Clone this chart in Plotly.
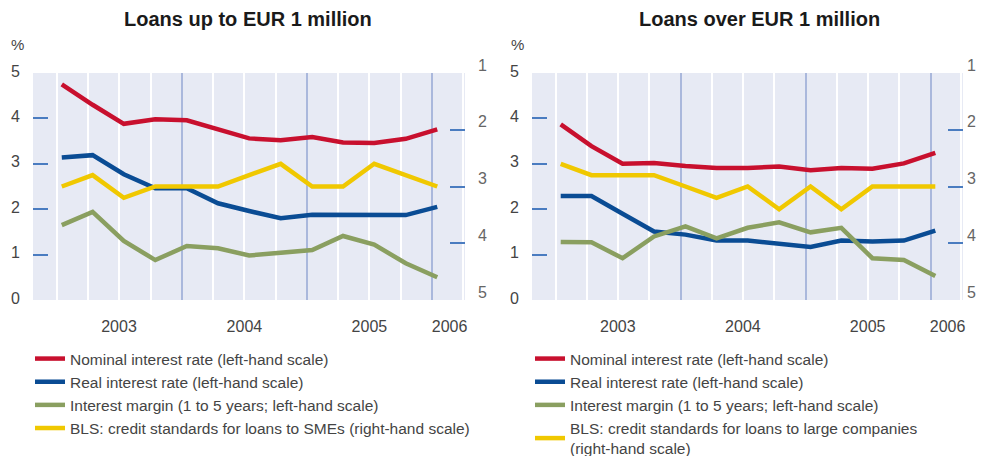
import plotly.graph_objects as go

# quarterly observations, Q1 2003 - Q1 2006
dates = ['2003-01-15', '2003-04-15', '2003-07-15', '2003-10-15',
         '2004-01-15', '2004-04-15', '2004-07-15', '2004-10-15',
         '2005-01-15', '2005-04-15', '2005-07-15', '2005-10-15',
         '2006-01-15']

year_ticks = ['2003-07-01', '2004-07-01', '2005-07-01', '2006-02-20']
year_labels = ['2003', '2004', '2005', '2006']

# white quarter lines and blue year lines of the grid
quarter_lines = ['2003-01-01', '2003-04-01', '2003-07-01', '2003-10-01',
                 '2004-04-01', '2004-07-01', '2004-10-01',
                 '2005-04-01', '2005-07-01', '2005-10-01', '2006-04-01']
year_lines = ['2004-01-01', '2005-01-01', '2006-01-01']

# loans up to EUR 1 million
small_nominal = [4.75, 4.30, 3.88, 3.98, 3.96, 3.75, 3.56, 3.52, 3.59, 3.47, 3.46, 3.55, 3.76]
small_real = [3.14, 3.19, 2.77, 2.46, 2.46, 2.13, 1.96, 1.80, 1.88, 1.88, 1.87, 1.87, 2.05]
small_margin = [1.65, 1.94, 1.30, 0.88, 1.19, 1.14, 0.98, 1.03, 1.10, 1.41, 1.22, 0.81, 0.50]
small_bls = [3.0, 2.8, 3.2, 3.0, 3.0, 3.0, 2.8, 2.6, 3.0, 3.0, 2.6, 2.8, 3.0]

# loans over EUR 1 million
large_nominal = [3.87, 3.39, 3.00, 3.02, 2.95, 2.91, 2.91, 2.94, 2.86, 2.91, 2.89, 3.01, 3.24]
large_real = [2.29, 2.29, 1.90, 1.51, 1.44, 1.31, 1.31, 1.23, 1.17, 1.31, 1.29, 1.31, 1.53]
large_margin = [1.28, 1.27, 0.92, 1.40, 1.62, 1.36, 1.59, 1.71, 1.49, 1.59, 0.92, 0.88, 0.53]
large_bls = [2.6, 2.8, 2.8, 2.8, 3.0, 3.2, 3.0, 3.4, 3.0, 3.4, 3.0, 3.0, 3.0]

left_ticks = [0, 1, 2, 3, 4, 5]
right_ticks = [1, 2, 3, 4, 5]

RED = '#c8102e'
BLUE = '#0a4c94'
GREEN = '#8a9f60'
YELLOW = '#f0c800'
BG = '#e7eaf4'
YEARLINE = '#aab8dc'
DASH = '#4a7cc0'
FONT = 'Liberation Sans, Arial, sans-serif'
TXT = '#444444'

W, H = 984, 456
OFF = 8  # page body margin in front of the plot div


def px_x(x):
    return (x - OFF) / W


def px_y(y):
    return 1 - (y - OFF) / H


XRANGE = ['2002-10-23', '2006-04-06']
YDOM = [px_y(300), px_y(73)]

fig = go.Figure()


def add_panel(n, xdom, series, bls_name, legend_id, legend_x, right_standoff):
    # n = 0 or 1; axis ids for this panel
    xm = 3 * n + 1          # main x (white grid), blue grid, year labels
    ym = 4 * n + 1          # left y, right y, left dashes, right dashes
    xid = lambda k: 'x' if k == 1 else f'x{k}'
    yid = lambda k: 'y' if k == 1 else f'y{k}'
    xname = lambda k: 'xaxis' if k == 1 else f'xaxis{k}'
    yname = lambda k: 'yaxis' if k == 1 else f'yaxis{k}'

    # empty traces so the overlay axes (grid lines, labels, tick dashes) get drawn
    for xa, ya in [(xm + 1, ym), (xm + 2, ym), (xm, ym + 2), (xm, ym + 3)]:
        fig.add_trace(go.Scatter(x=[], y=[], xaxis=xid(xa), yaxis=yid(ya),
                                 showlegend=False, hoverinfo='skip'))

    names = ['Nominal interest rate (left-hand scale)',
             'Real interest rate (left-hand scale)',
             'Interest margin (1 to 5 years; left-hand scale)']
    colors = [RED, BLUE, GREEN]
    for i, (vals, name, col) in enumerate(zip(series, names, colors)):
        fig.add_trace(go.Scatter(
            x=dates, y=vals, name=name, mode='lines',
            line=dict(color=col, width=4.5),
            xaxis=xid(xm), yaxis=yid(ym),
            legend=legend_id, legendgroup=f'{legend_id}{i}'))
    fig.add_trace(go.Scatter(
        x=dates, y=series[3], name=bls_name, mode='lines',
        line=dict(color=YELLOW, width=4.5),
        xaxis=xid(xm), yaxis=yid(ym + 1),
        legend=legend_id, legendgroup=f'{legend_id}3'))

    tickfont = dict(family=FONT, size=16, color=TXT)
    common = dict(automargin=False, zeroline=False, showline=False)
    fig.layout[xname(xm)] = dict(
        domain=xdom, anchor=yid(ym), type='date', range=XRANGE,
        tickmode='array', tickvals=quarter_lines, showgrid=True,
        gridcolor='white', gridwidth=2, showticklabels=False, ticks='', **common)
    fig.layout[xname(xm + 1)] = dict(
        overlaying=xid(xm), anchor=yid(ym), type='date', range=XRANGE,
        tickmode='array', tickvals=year_lines, showgrid=True, gridcolor=YEARLINE,
        gridwidth=2, showticklabels=False, ticks='', **common)
    fig.layout[xname(xm + 2)] = dict(
        overlaying=xid(xm), anchor=yid(ym), type='date', range=XRANGE,
        tickmode='array', tickvals=year_ticks, ticktext=year_labels,
        showgrid=False, ticks='', tickfont=tickfont, ticklabelstandoff=15, **common)

    fig.layout[yname(ym)] = dict(
        domain=YDOM, anchor=xid(xm), range=[0, 5],
        tickmode='array', tickvals=left_ticks, showgrid=False,
        ticks='', tickfont=tickfont, ticklabelstandoff=12, ticklabelshift=-2, **common)
    fig.layout[yname(ym + 1)] = dict(
        overlaying=yid(ym), anchor=xid(xm), side='right', range=[5, 1],
        tickmode='array', tickvals=right_ticks, showgrid=False,
        ticks='', tickfont=dict(family=FONT, size=16, color='#666666'),
        ticklabelstandoff=right_standoff, ticklabelshift=8,
        ticklabeloverflow='allow', **common)
    fig.layout[yname(ym + 2)] = dict(
        overlaying=yid(ym), anchor=xid(xm), side='left', range=[0, 5],
        tickmode='array', tickvals=[1, 2, 3, 4], showgrid=False,
        ticks='inside', ticklen=15, tickwidth=1.5,
        tickcolor=DASH, showticklabels=False, **common)
    fig.layout[yname(ym + 3)] = dict(
        overlaying=yid(ym), anchor=xid(xm), side='right', range=[5, 1],
        tickmode='array', tickvals=[2, 3, 4], showgrid=False,
        ticks='inside', ticklen=15, tickwidth=1.5,
        tickcolor=DASH, showticklabels=False, **common)

    fig.layout[legend_id] = dict(
        x=legend_x, y=px_y(342), xanchor='left', yanchor='top',
        bgcolor='rgba(0,0,0,0)', traceorder='grouped', tracegroupgap=0,
        font=dict(family=FONT, size=15.5, color=TXT))


add_panel(0, [px_x(33), px_x(465)], [small_nominal, small_real, small_margin, small_bls],
          'BLS: credit standards for loans to SMEs (right-hand scale)', 'legend', px_x(30), 12)
add_panel(1, [px_x(532), px_x(963)], [large_nominal, large_real, large_margin, large_bls],
          'BLS: credit standards for loans to large companies<br>(right-hand scale)',
          'legend2', px_x(530), 3)

titles = [('Loans up to EUR 1 million', 248), ('Loans over EUR 1 million', 759)]
for text, xpx in titles:
    fig.add_annotation(text=f'<b>{text}</b>', x=px_x(xpx), y=px_y(19),
                       xref='paper', yref='paper', xanchor='center', yanchor='middle',
                       showarrow=False, font=dict(family=FONT, size=20, color='#1a1a1a'))
for xpx in [17, 517]:
    fig.add_annotation(text='%', x=px_x(xpx), y=px_y(44), xref='paper', yref='paper',
                       xanchor='center', yanchor='middle',
                       showarrow=False, font=dict(family=FONT, size=15, color=TXT))

fig.update_layout(
    width=W, height=H,
    margin=dict(l=0, r=0, t=0, b=0, autoexpand=False),
    paper_bgcolor='white', plot_bgcolor=BG,
    showlegend=True,
    font=dict(family=FONT, color=TXT),
)

fig.write_html("out.html")
